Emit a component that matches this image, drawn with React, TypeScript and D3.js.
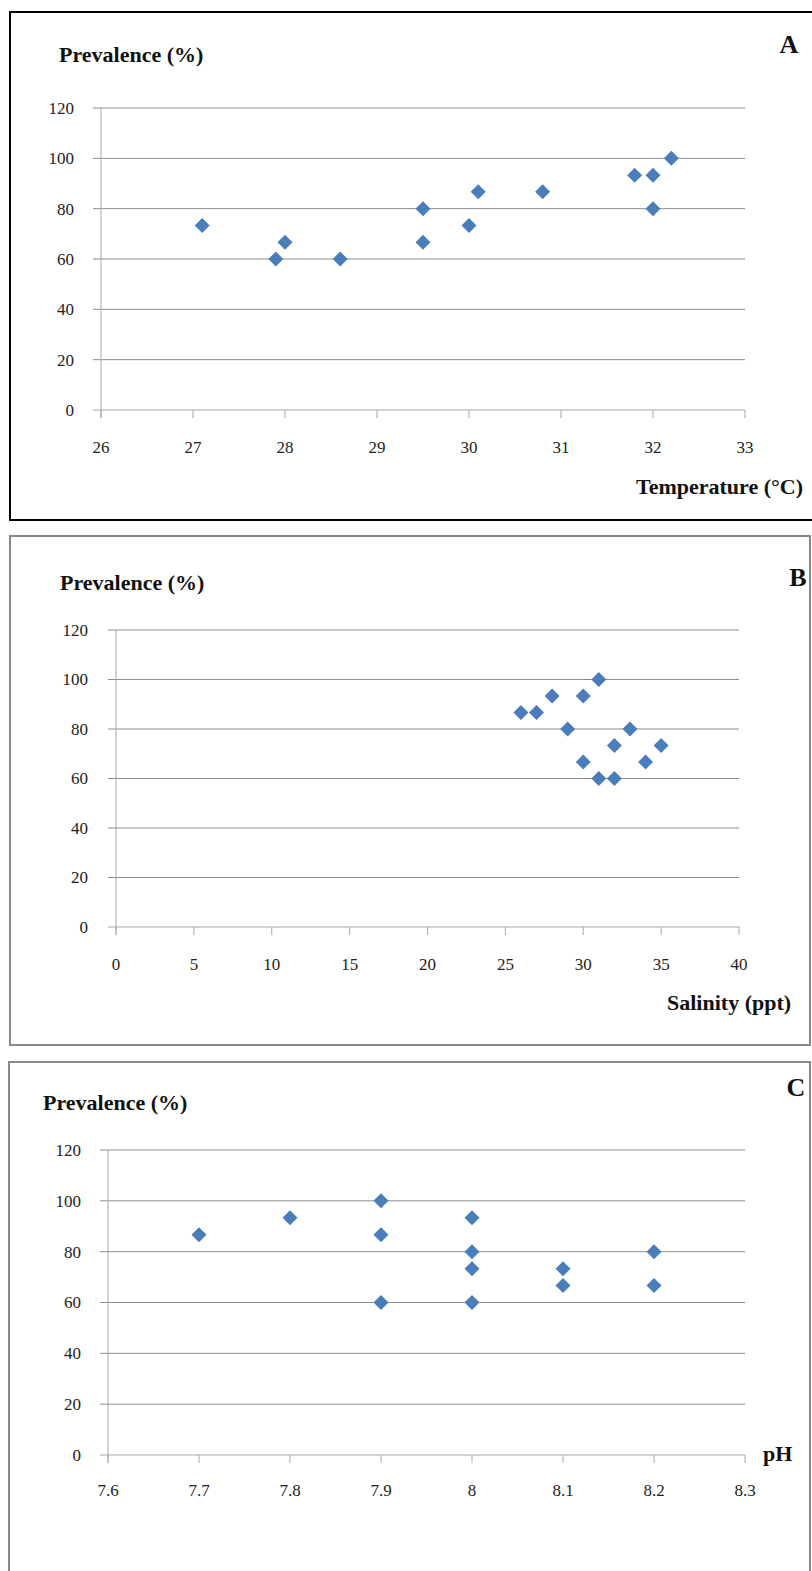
import React from 'react';
import * as d3 from 'd3';

// Panel A: temperature vs prevalence
const tempValues = [27.1, 27.9, 28, 28.6, 29.5, 29.5, 30, 30.1, 30.8, 31.8, 32, 32, 32.2];
const tempPrev = [73.3, 60, 66.7, 60, 80, 66.7, 73.3, 86.7, 86.7, 93.3, 93.3, 80, 100];
const tempTicks = [26, 27, 28, 29, 30, 31, 32, 33];

// Panel B: salinity vs prevalence
const salValues = [26, 27, 28, 29, 30, 31, 30, 31, 32, 32, 33, 34, 35];
const salPrev = [86.7, 86.7, 93.3, 80, 93.3, 100, 66.7, 60, 60, 73.3, 80, 66.7, 73.3];
const salTicks = [0, 5, 10, 15, 20, 25, 30, 35, 40];

// Panel C: pH vs prevalence
const phValues = [7.7, 7.8, 7.9, 7.9, 7.9, 8, 8, 8, 8, 8.1, 8.1, 8.2, 8.2];
const phPrev = [86.7, 93.3, 100, 86.7, 60, 93.3, 80, 73.3, 60, 73.3, 66.7, 80, 66.7];
const phTicks = [7.6, 7.7, 7.8, 7.9, 8, 8.1, 8.2, 8.3];

const prevTicks = [0, 20, 40, 60, 80, 100, 120];

const FONT = '"Liberation Serif", "Times New Roman", serif';
const GRID = '#8c8c8c';
const AXIS = '#a8a8a8';
const MARK = '#4a7ebb';

type PanelProps = {
  xs: number[];
  ys: number[];
  xTicks: number[];
  xDomain: [number, number];
  xRange: [number, number];
  yRange: [number, number];
  box: { x: number; y: number; w: number; h: number; stroke: string };
  letter: { text: string; x: number; y: number };
  yTitle: { x: number; y: number };
  xTitle: { text: string; x: number; y: number };
  labelGap: number;
  yLabelGap: number;
};

const diamond = (r: number) => `M0,${-r}L${r},0L0,${r}L${-r},0Z`;

const Panel = (p: PanelProps) => {
  const x = d3.scaleLinear().domain(p.xDomain).range(p.xRange);
  const y = d3.scaleLinear().domain([0, 120]).range(p.yRange);
  const [x0, x1] = p.xRange;
  const y0 = y(0);
  const fmt = (d: number) => String(+d.toFixed(1));

  return (
    <g>
      <rect x={p.box.x} y={p.box.y} width={p.box.w} height={p.box.h}
        fill="white" stroke={p.box.stroke} strokeWidth={2} />

      {/* horizontal gridlines + y labels */}
      {prevTicks.map(t => (
        <g key={'y' + t}>
          <line x1={x0 - 8} x2={x1} y1={y(t)} y2={y(t)}
            stroke={t === 0 ? AXIS : GRID} strokeWidth={1} />
          <text x={x0 - p.yLabelGap} y={y(t)} dy="0.35em" textAnchor="end"
            fontSize={17} fontFamily={FONT} fill="#222">{t}</text>
        </g>
      ))}

      {/* y axis */}
      <line x1={x0} x2={x0} y1={y(120)} y2={y0 + 8} stroke={AXIS} strokeWidth={1} />

      {/* x ticks */}
      {p.xTicks.map(t => (
        <g key={'x' + t}>
          <line x1={x(t)} x2={x(t)} y1={y0} y2={y0 + 8} stroke={AXIS} strokeWidth={1} />
          <text x={x(t)} y={y0 + p.labelGap} dy="0.35em" textAnchor="middle"
            fontSize={17} fontFamily={FONT} fill="#222">{fmt(t)}</text>
        </g>
      ))}

      {/* points */}
      {p.xs.map((v, i) => (
        <path key={'p' + i} d={diamond(7.5)}
          transform={`translate(${x(v)},${y(p.ys[i])})`} fill={MARK} />
      ))}

      <text x={p.yTitle.x} y={p.yTitle.y} fontSize={22} fontWeight="bold"
        fontFamily={FONT} fill="#111">Prevalence (%)</text>
      <text x={p.xTitle.x} y={p.xTitle.y} fontSize={22} fontWeight="bold"
        fontFamily={FONT} fill="#111">{p.xTitle.text}</text>
      <text x={p.letter.x} y={p.letter.y} textAnchor="middle" fontSize={26}
        fontWeight="bold" fontFamily={FONT} fill="#111">{p.letter.text}</text>
    </g>
  );
};

export default function App() {
  return (
    <svg width={812} height={1571}
      style={{ position: 'absolute', left: 0, top: 0, background: 'white' }}>
      <Panel xs={tempValues} ys={tempPrev} xTicks={tempTicks}
        xDomain={[26, 33]} xRange={[101, 745]} yRange={[410, 108]}
        box={{ x: 10, y: 12, w: 806, h: 508, stroke: '#000' }}
        letter={{ text: 'A', x: 789, y: 53 }}
        yTitle={{ x: 59, y: 62 }}
        xTitle={{ text: 'Temperature (°C)', x: 636, y: 494 }}
        labelGap={37} yLabelGap={27} />
      <Panel xs={salValues} ys={salPrev} xTicks={salTicks}
        xDomain={[0, 40]} xRange={[116, 739]} yRange={[927, 630]}
        box={{ x: 10, y: 536, w: 800, h: 509, stroke: '#8a8a8a' }}
        letter={{ text: 'B', x: 798, y: 586 }}
        yTitle={{ x: 60, y: 590 }}
        xTitle={{ text: 'Salinity (ppt)', x: 667, y: 1010 }}
        labelGap={37} yLabelGap={28} />
      <Panel xs={phValues} ys={phPrev} xTicks={phTicks}
        xDomain={[7.6, 8.3]} xRange={[108, 745]} yRange={[1455, 1150]}
        box={{ x: 9, y: 1062, w: 801, h: 520, stroke: '#8a8a8a' }}
        letter={{ text: 'C', x: 796, y: 1096 }}
        yTitle={{ x: 43, y: 1110 }}
        xTitle={{ text: 'pH', x: 763, y: 1461 }}
        labelGap={35} yLabelGap={27} />
    </svg>
  );
}
